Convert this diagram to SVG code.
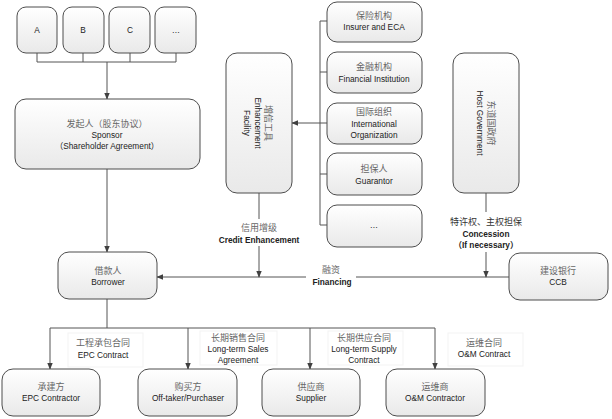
<svg xmlns="http://www.w3.org/2000/svg" width="612" height="419" viewBox="0 0 612 419">
<defs>
<linearGradient id="g" x1="0" y1="0" x2="0" y2="1">
<stop offset="0" stop-color="#ffffff"/>
<stop offset="1" stop-color="#e9e9e9"/>
</linearGradient>
<marker id="ar" viewBox="0 0 10 10" refX="9" refY="5" markerWidth="7" markerHeight="7" markerUnits="userSpaceOnUse" orient="auto">
<path d="M0,1 L10,5 L0,9 z" fill="#404040"/>
</marker>
<style>
.b{fill:url(#g);stroke:#4d4d4d;stroke-width:1}
.cn{font-family:"Noto Sans CJK SC","Liberation Sans",sans-serif;font-size:9px;fill:#666;text-anchor:middle}
.en{font-family:"Liberation Sans","Noto Sans CJK SC",sans-serif;font-size:8.3px;fill:#222;text-anchor:middle}
.bd{font-weight:bold}
.cnb{fill:#333}
.l{fill:none;stroke:#555;stroke-width:1}
.la{fill:none;stroke:#555;stroke-width:1;marker-end:url(#ar)}
.lb{fill:#fff;stroke:#f3f3f3;stroke-width:1}
.wb{fill:#fff;stroke:none}
</style>
</defs>
<rect width="612" height="419" fill="#fff"/>
<g id="connectors">
<path class="l" d="M37,53V62H176V53M83,53V62M130,53V62"/>
<path class="la" d="M107,62V99"/>
<path class="la" d="M107,169V252"/>
<path class="l" d="M320,21V225M320,21H327M320,72H327M320,123H327M320,174H327M320,225H327"/>
<path class="la" d="M320,123H292"/>
<path class="la" d="M509,277H157"/>
<path class="la" d="M259,193V277"/>
<path class="la" d="M486,193V277"/>
<path class="l" d="M107,299V328"/>
<path class="l" d="M50,328H435"/>
<path class="la" d="M50,328V369"/>
<path class="la" d="M188,328V369"/>
<path class="la" d="M310,328V369"/>
<path class="la" d="M435,328V369"/>
</g>
<g id="label-credit">
<rect class="wb" x="218" y="219" width="82" height="27"/>
<text class="cn" x="259" y="231">信用增级</text>
<text class="en bd" x="259" y="243">Credit Enhancement</text>
</g>
<g id="label-concession">
<rect class="wb" x="445" y="212" width="84" height="40"/>
<text class="cn cnb" x="486" y="225">特许权、主权担保</text>
<text class="en bd" x="486" y="237">Concession</text>
<text class="en bd" x="486" y="248">（If necessary）</text>
</g>
<g id="label-financing">
<rect class="wb" x="306" y="263" width="50" height="26"/>
<text class="cn" x="331" y="273">融资</text>
<text class="en bd" x="332" y="285">Financing</text>
</g>
<g id="label-epc">
<rect class="lb" x="68" y="333" width="75" height="34"/>
<text class="cn" x="103" y="346">工程承包合同</text>
<text class="en" x="103" y="358">EPC Contract</text>
</g>
<g id="label-sales">
<rect class="lb" x="200" y="331" width="77" height="34"/>
<text class="cn" x="238" y="341">长期销售合同</text>
<text class="en" x="238" y="352">Long-term Sales</text>
<text class="en" x="238" y="363">Agreement</text>
</g>
<g id="label-supply">
<rect class="lb" x="328" y="331" width="75" height="34"/>
<text class="cn" x="364" y="341">长期供应合同</text>
<text class="en" x="364" y="352">Long-term Supply</text>
<text class="en" x="364" y="363">Contract</text>
</g>
<g id="label-om">
<rect class="lb" x="448" y="333" width="75" height="33"/>
<text class="cn" x="484" y="346">运维合同</text>
<text class="en" x="484" y="357">O&amp;M Contract</text>
</g>
<g id="A"><rect class="b" x="17" y="7" width="40" height="46" rx="9"/><text class="en" x="37" y="33">A</text></g>
<g id="B"><rect class="b" x="63" y="7" width="41" height="46" rx="9"/><text class="en" x="83" y="33">B</text></g>
<g id="C"><rect class="b" x="109" y="7" width="41" height="46" rx="9"/><text class="en" x="130" y="33">C</text></g>
<g id="D"><rect class="b" x="155" y="7" width="41" height="46" rx="9"/><text class="en" x="176" y="33">…</text></g>
<g id="sponsor"><rect class="b" x="15" y="99" width="185" height="70" rx="11"/>
<text class="cn" x="107" y="127">发起人（股东协议）</text>
<text class="en" x="107" y="138">Sponsor</text>
<text class="en" x="107" y="149">（Shareholder Agreement）</text></g>
<g id="enhancement"><rect class="b" x="226" y="53" width="66" height="140" rx="11"/>
<g transform="translate(259,123) rotate(90)">
<text class="cn" x="0" y="-6">增信工具</text>
<text class="en" x="0" y="4">Enhancement</text>
<text class="en" x="0" y="15">Facility</text></g></g>
<g id="insurer"><rect class="b" x="327" y="2" width="95" height="40" rx="10"/>
<text class="cn" x="374" y="19">保险机构</text><text class="en" x="374" y="30">Insurer and ECA</text></g>
<g id="financial"><rect class="b" x="327" y="52" width="95" height="41" rx="10"/>
<text class="cn" x="374" y="70">金融机构</text><text class="en" x="374" y="82">Financial Institution</text></g>
<g id="intl"><rect class="b" x="327" y="103" width="95" height="41" rx="10"/>
<text class="cn" x="374" y="115">国际组织</text><text class="en" x="374" y="127">International</text><text class="en" x="374" y="138">Organization</text></g>
<g id="guarantor"><rect class="b" x="327" y="153" width="95" height="42" rx="10"/>
<text class="cn" x="374" y="172">担保人</text><text class="en" x="374" y="184">Guarantor</text></g>
<g id="more"><rect class="b" x="327" y="205" width="95" height="42" rx="10"/>
<text class="en" x="374" y="228">…</text></g>
<g id="host"><rect class="b" x="453" y="53" width="66" height="140" rx="11"/>
<g transform="translate(486,123) rotate(90)">
<text class="cn" x="0" y="-2">东道国政府</text>
<text class="en" x="0" y="9">Host Government</text></g></g>
<g id="borrower"><rect class="b" x="58" y="252" width="99" height="47" rx="11"/>
<text class="cn" x="108" y="274">借款人</text><text class="en" x="108" y="285">Borrower</text></g>
<g id="ccb"><rect class="b" x="509" y="253" width="99" height="47" rx="11"/>
<text class="cn" x="558" y="274">建设银行</text><text class="en" x="558" y="285">CCB</text></g>
<g id="epc"><rect class="b" x="2" y="369" width="98" height="47" rx="11"/>
<text class="cn" x="51" y="390">承建方</text><text class="en" x="51" y="401">EPC Contractor</text></g>
<g id="offtaker"><rect class="b" x="138" y="369" width="99" height="47" rx="11"/>
<text class="cn" x="188" y="390">购买方</text><text class="en" x="188" y="401">Off-taker/Purchaser</text></g>
<g id="supplier"><rect class="b" x="262" y="369" width="98" height="47" rx="11"/>
<text class="cn" x="311" y="390">供应商</text><text class="en" x="311" y="401">Supplier</text></g>
<g id="om"><rect class="b" x="386" y="369" width="99" height="47" rx="11"/>
<text class="cn" x="435" y="390">运维商</text><text class="en" x="435" y="401">O&amp;M Contractor</text></g>
</svg>
